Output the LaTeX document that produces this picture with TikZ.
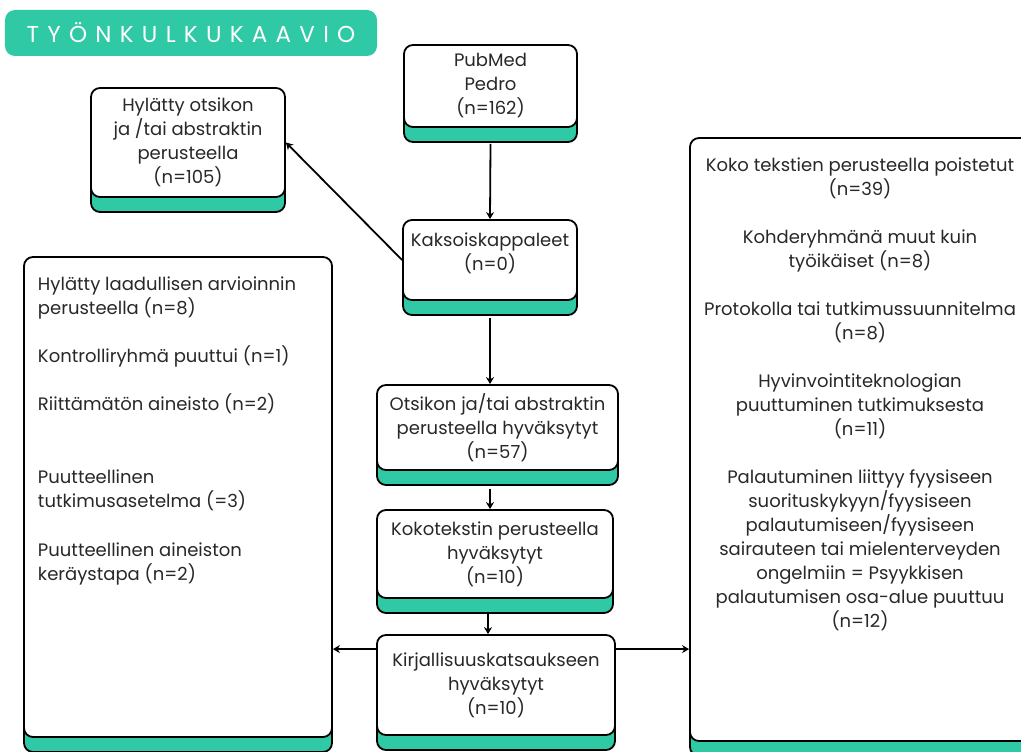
\documentclass[tikz,border=0pt]{standalone}
\usepackage{fontspec}
\setmainfont{Poppins}
\usetikzlibrary{arrows.meta, positioning, shadows}
\definecolor{cardteal}{RGB}{47,201,165}
\definecolor{inkgray}{RGB}{40,40,40}
\newcommand{\cardfont}{\fontsize{18bp}{24bp}\selectfont}

\begin{document}
\begin{tikzpicture}[x=1bp, y=-1bp,
    card/.style={rectangle, draw=black, line width=1.8bp,
                 rounded corners=9bp, fill=white,
                 align=center, font=\cardfont, text=inkgray,
                 general shadow={fill=cardteal, draw=black,
                                 line width=1.8bp, shadow yshift=-15bp}},
    bigcard/.style={card, inner xsep=14bp, inner ysep=20bp},
    banner/.style={rectangle, fill=cardteal, rounded corners=10bp,
                   minimum width=372bp, minimum height=46bp,
                   text=white, font=\fontsize{23bp}{26bp}\selectfont},
    arr/.style={-{Stealth[length=7bp,width=8bp]}, line width=1.8bp}
]
    \useasboundingbox (0,0) rectangle (1021,752);

    % otsikko
    \node[banner] (title) at (191,33)
        {\addfontfeature{LetterSpace=36}TYÖNKULKUKAAVIO};

    % keskisarake
    \node[card, minimum width=173bp, minimum height=82bp] (pubmed) at (490.5,86)
        {PubMed\\Pedro\\(n=162)};
    \node[card, minimum width=174bp, minimum height=80bp] (kaksois) at (490,260)
        {Kaksoiskappaleet\\(n=0)\\[-8bp]};
    \node[card, minimum width=241bp, minimum height=85bp] (otsikko) at (497.5,427.5)
        {Otsikon ja/tai abstraktin\\perusteella hyväksytyt\\(n=57)};
    \node[card, minimum width=236bp, minimum height=88bp] (koko) at (495,554)
        {Kokotekstin perusteella\\hyväksytyt\\(n=10)};
    \node[card, minimum width=238bp, minimum height=100bp] (kirj) at (496,685)
        {Kirjallisuuskatsaukseen\\hyväksytyt\\(n=10)};

    % poissulkulaatikot
    \node[card, minimum width=194bp, minimum height=109bp] (hylatty) at (188,142.5)
        {Hylätty otsikon\\ja /tai abstraktin\\perusteella\\(n=105)};
    \node[bigcard] (laatu) at (178,497)
        {\parbox[c][440bp][t]{280bp}{\raggedright
         Hylätty laadullisen arvioinnin\\
         perusteella (n=8)\\[24bp]
         Kontrolliryhmä puuttui (n=1)\\[24bp]
         Riittämätön aineisto (n=2)\\[49bp]
         Puutteellinen\\
         tutkimusasetelma (=3)\\[25bp]
         Puutteellinen aineiston\\
         keräystapa (n=2)}};
    \node[bigcard, inner xsep=6bp] (poistetut) at (860,439.5)
        {\parbox[c][563bp][t]{328bp}{\centering
         Koko tekstien perusteella poistetut\\
         (n=39)\\[24bp]
         Kohderyhmänä muut kuin\\
         työikäiset (n=8)\\[24bp]
         Protokolla tai tutkimussuunnitelma\\
         (n=8)\\[24bp]
         Hyvinvointiteknologian\\
         puuttuminen tutkimuksesta\\
         (n=11)\\[24bp]
         Palautuminen liittyy fyysiseen\\
         suorituskykyyn/fyysiseen\\
         palautumiseen/fyysiseen\\
         sairauteen tai mielenterveyden\\
         ongelmiin = Psyykkisen\\
         palautumisen osa-alue puuttuu\\
         (n=12)}};

    % nuolet
    \draw[arr] ([yshift=-16bp]pubmed.south) -- (kaksois.north);
    \draw[arr] (kaksois.west) -- (hylatty.east);
    \draw[arr] ([yshift=-17bp]kaksois.south) -- (otsikko.north -| kaksois.south);
    \draw[arr] ([yshift=-18bp]otsikko.south -| kaksois.south) -- (koko.north -| kaksois.south);
    \draw[arr] ([xshift=-2bp, yshift=-15bp]koko.south -| kaksois.south)
        -- ([xshift=-2bp]kirj.north -| kaksois.south);
    \draw[arr] ([yshift=-15bp]kirj.north west) -- ([yshift=-15bp]kirj.north west -| laatu.east);
    \draw[arr] ([yshift=-15bp]kirj.north east) -- ([yshift=-15bp]kirj.north east -| poistetut.west);
\end{tikzpicture}
\end{document}
